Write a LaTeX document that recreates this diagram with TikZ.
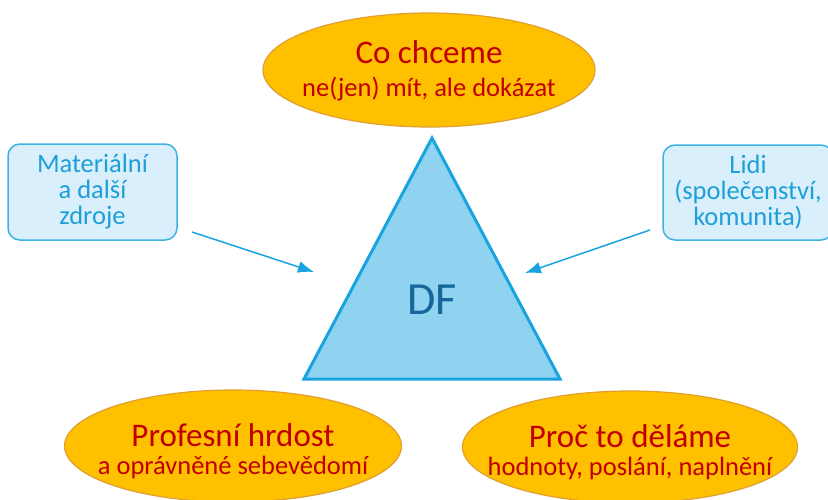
\documentclass[tikz,border=0pt]{standalone}
\usepackage{fontspec}
\setmainfont{Carlito}
\usetikzlibrary{shapes.geometric,arrows.meta}
\definecolor{ellfill}{HTML}{FFC000}
\definecolor{elldraw}{HTML}{E0A030}
\definecolor{elltext}{HTML}{C00000}
\definecolor{trifill}{HTML}{8FD3F1}
\definecolor{tridraw}{HTML}{1AA3DE}
\definecolor{boxfill}{HTML}{D9EFFB}
\definecolor{boxdraw}{HTML}{3DB2E3}
\definecolor{boxtext}{HTML}{1E9FD8}
\definecolor{dftext}{HTML}{16669A}
\tikzset{
  goal/.style={ellipse, fill=ellfill, draw=elldraw, line width=1.2pt, inner sep=0pt},
  goaltext/.style={text=elltext, align=center, inner sep=0pt},
  res/.style={rounded corners=12pt, fill=boxfill, draw=boxdraw, line width=1.5pt, text=boxtext, align=center, inner sep=0pt, font=\fontsize{26.5}{26}\selectfont},
  feed/.style={draw=tridraw, line width=1.5pt, -{Latex[length=16pt,width=12pt]}}
}
\newcommand{\headline}[1]{{\fontsize{33}{36}\selectfont #1}}
\newcommand{\subline}[1]{{\fontsize{26.5}{28}\selectfont #1}}
\begin{document}
\begin{tikzpicture}[x=1pt,y=-1pt]
\useasboundingbox (0,0) rectangle (828,499);
% triangle
\draw[fill=trifill, draw=tridraw, line width=3pt, line join=miter] (432,138) -- (560,379) -- (304,379) -- cycle;
\node[text=dftext, font=\fontsize{46}{48}\selectfont] (df) at (432,300) {DF};
% ellipses
\node[goal, minimum width=332pt, minimum height=114pt] (top) at (429,70) {};
\node[goaltext] (toptext) at (429,71)
  {\headline{Co chceme}\\[12pt]\subline{ne(jen) mít, ale dokázat}};
\node[goal, minimum width=337pt, minimum height=112pt] (bl) at (233,446) {};
\node[goaltext] (bltext) at (233,451)
  {\headline{Profesní hrdost}\\[9pt]\subline{a oprávněné sebevědomí}};
\node[goal, minimum width=335pt, minimum height=112pt] (br) at (630,447) {};
\node[goaltext] (brtext) at (630,452)
  {\headline{Proč to děláme}\\[9pt]\subline{hodnoty, poslání, naplnění}};
% boxes
\node[res, minimum width=169pt, minimum height=96pt] (mat) at (92.5,192) {Materiální\\a další\\zdroje};
\node[res, minimum width=170pt, minimum height=95pt] (lidi) at (748,192.5) {Lidi\\(společenství,\\komunita)};
% arrows
\coordinate (la) at (192,232);
\coordinate (lb) at (314,272);
\coordinate (ra) at (650,230);
\coordinate (rb) at (525,273);
\draw[feed] (la) -- (lb);
\draw[feed] (ra) -- (rb);
\end{tikzpicture}
\end{document}
